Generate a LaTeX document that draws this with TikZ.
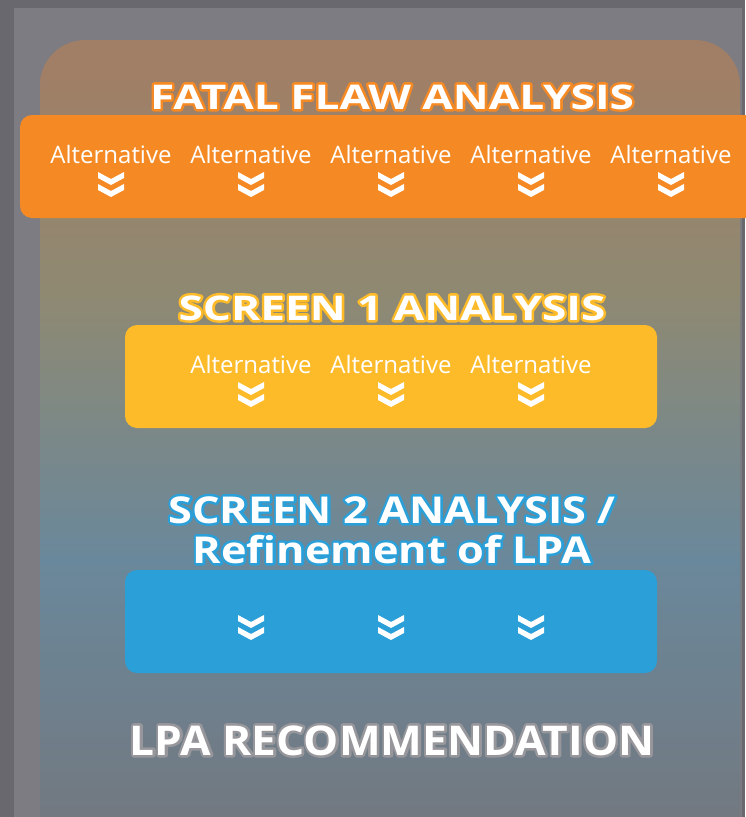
\documentclass[tikz,border=0pt]{standalone}
\usepackage{fontspec}
\setmainfont{Open Sans}
\newfontfamily\headwide[FakeStretch=1.3]{Open Sans}
\newfontfamily\headmid[FakeStretch=1.17]{Open Sans}
\newfontfamily\headlpa[FakeStretch=1.08]{Open Sans}
\usetikzlibrary{positioning}

\definecolor{frameDark}{RGB}{104,104,110}
\definecolor{frameGrey}{RGB}{124,124,130}
\definecolor{panelBot}{RGB}{116,117,122}
\definecolor{panelBlue}{RGB}{106,136,155}
\definecolor{panelOlive}{RGB}{143,137,114}
\definecolor{panelTan}{RGB}{160,127,102}
\definecolor{ffOrange}{RGB}{245,138,37}
\definecolor{scrYellow}{RGB}{253,187,42}
\definecolor{scrBlue}{RGB}{42,159,216}
\definecolor{lpaGrey}{RGB}{150,150,155}

\pgfdeclareverticalshading{panelshade}{100bp}{color(0bp)=(panelBot); color(25bp)=(panelBot); color(44bp)=(panelBlue); color(60bp)=(panelOlive); color(73bp)=(panelTan); color(100bp)=(panelTan)}

% white letters with a coloured rim
\newcommand{\rimtext}[2]{\leavevmode\rlap{\color{#1}\special{pdf:literal direct 1 Tr 5 w 1 j}#2\special{pdf:literal direct 0 Tr}}#2}

\tikzset{
  band/.style={rounded corners=12pt},
  alttext/.style={text=white, inner sep=0pt, anchor=base, font=\fontsize{24}{28}\selectfont},
  headtext/.style={text=white, inner sep=0pt, anchor=base, font=\headwide\bfseries\fontsize{34}{36}\selectfont},
  dchev/.pic={
    \fill[white] (-13,-13) -- (0,-6) -- (13,-13) -- (13,-7) -- (0,0) -- (-13,-7) -- cycle;
    \fill[white] (-13,-1) -- (0,6) -- (13,-1) -- (13,5) -- (0,12) -- (-13,5) -- cycle;
  }
}

\begin{document}
\begin{tikzpicture}[x=1pt,y=-1pt]
\useasboundingbox (0,0) rectangle (745,817);
% background
\fill[frameDark] (0,0) rectangle (745,817);
\fill[frameGrey] (14,8) rectangle (742,817);
\shade[shading=panelshade, rounded corners=45pt] (40,40) rectangle (740,880);

% fatal flaw
\fill[ffOrange, band] (20,115) rectangle (775,218);
\node[headtext] (ffTitle) at (392,109) {\rimtext{ffOrange}{FATAL FLAW ANALYSIS}};
\foreach \x [count=\i] in {111,251,391,531,671} {
  \node[alttext] (ffAlt\i) at (\x,163) {Alternative};
  \pic at (\x,185) {dchev};
}

% screen 1
\fill[scrYellow, band] (125,325) rectangle (657,428);
\node[headtext] (scrOneTitle) at (392,320) {\rimtext{scrYellow}{SCREEN 1 ANALYSIS}};
\foreach \x [count=\i] in {251,391,531} {
  \node[alttext] (scrOneAlt\i) at (\x,373) {Alternative};
  \pic at (\x,395) {dchev};
}

% screen 2
\fill[scrBlue, band] (125,570) rectangle (657,673);
\node[headtext, font=\headmid\bfseries\fontsize{37}{40}\selectfont] (scrTwoTitle) at (392,523) {\rimtext{scrBlue}{SCREEN 2 ANALYSIS /}};
\node[headtext, font=\headmid\bfseries\fontsize{37}{40}\selectfont] (scrTwoSub) at (392,563) {\rimtext{scrBlue}{Refinement of LPA}};
\foreach \x in {251,391,531} {
  \pic at (\x,628) {dchev};
}

% recommendation
\node[headtext, font=\headlpa\bfseries\fontsize{41}{44}\selectfont] (lpaRec) at (392,755) {\rimtext{lpaGrey}{LPA RECOMMENDATION}};
\end{tikzpicture}
\end{document}
